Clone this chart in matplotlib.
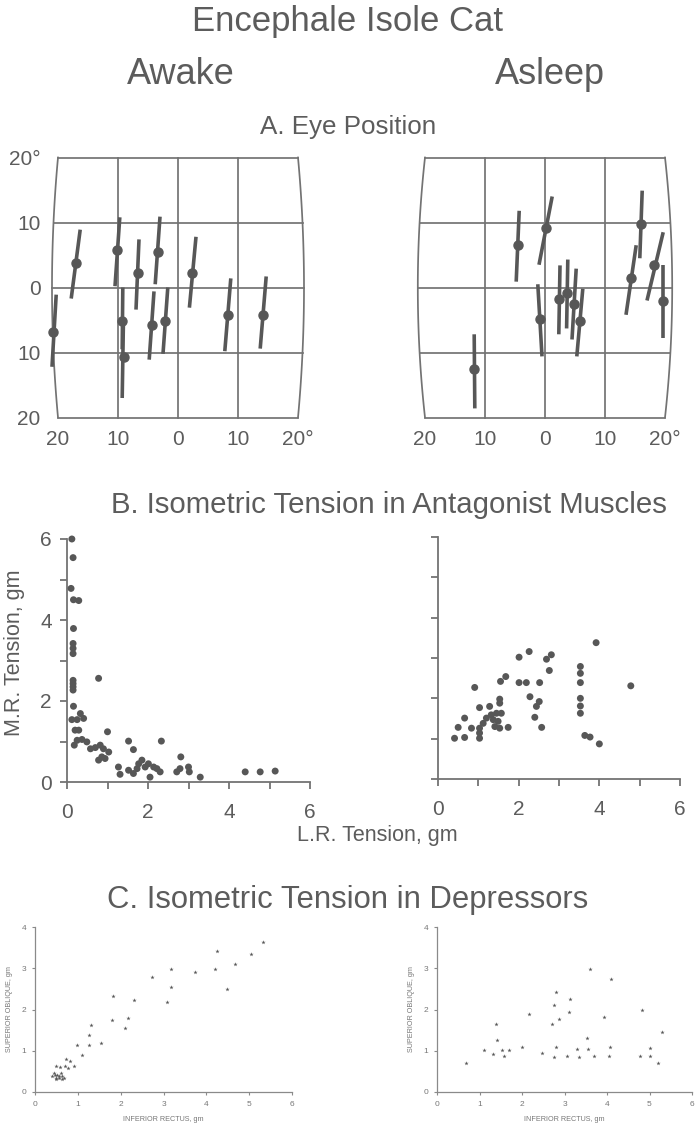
import matplotlib.pyplot as plt
import numpy as np

plt.rcParams['font.family'] = ['Liberation Sans', 'DejaVu Sans']

INK = '#575757'
TXT = '#5c5c5c'
LINE = '#737373'

# A. Eye position, degrees: centre dot and both ends of each excursion bar
awake_x = [-20.8, -17.0, -10.2, -6.7, -3.3, -9.3, -9.0, -4.3, -2.2, 2.4, 8.3, 14.2]
awake_y = [-6.8, 3.7, 5.7, 2.2, 5.5, -5.2, -10.7, -5.8, -5.2, 2.3, -4.3, -4.3]
awake_lo_x = [-21.0, -17.8, -10.5, -7.0, -3.8, -9.3, -9.3, -4.8, -2.5, 1.9, 7.8, 13.7]
awake_lo_y = [-12.2, -1.7, 0.2, -3.4, 0.5, -9.5, -17.0, -11.1, -10.2, -3.1, -9.8, -9.4]
awake_hi_x = [-20.3, -16.3, -9.7, -6.5, -3.0, -9.2, -9.1, -4.0, -1.7, 3.0, 8.8, 14.7]
awake_hi_y = [-1.1, 8.9, 10.8, 7.4, 10.9, 0.0, -5.5, -0.6, 0.0, 7.8, 1.4, 1.7]

asleep_x = [-4.5, 0.2, -0.8, 2.3, 3.7, 4.8, 5.8, -11.8, 14.3, 16.0, 18.2, 19.7]
asleep_y = [6.6, 9.1, -4.9, -1.8, -0.9, -2.5, -5.1, -12.6, 1.5, 9.7, 3.5, -2.0]
asleep_lo_x = [-4.8, -1.0, -0.5, 2.3, 3.6, 4.5, 5.3, -11.7, 13.5, 15.8, 17.0, 19.7]
asleep_lo_y = [0.9, 3.5, -10.6, -7.2, -6.3, -8.0, -10.6, -18.6, -4.2, 4.5, -2.0, -7.7]
asleep_hi_x = [-4.3, 1.2, -1.2, 2.5, 3.8, 5.2, 6.3, -11.8, 15.2, 16.2, 19.7, 19.7]
asleep_hi_y = [11.8, 14.0, 0.5, 3.4, 4.3, 2.9, -0.2, -7.2, 6.5, 14.9, 8.5, 3.5]

eye_ticks = [-20, -10, 0, 10, 20]
eye_xlabels = ['20', '10', '0', '10', '20°']
eye_ylabels = ['20', '10', '0', '10', '20°']

# B. Isometric tension (gm): L.R. on x, M.R. on y
awake_lr = [0.12, 0.15, 0.10, 0.16, 0.29, 0.16, 0.15, 0.15, 0.15, 0.15, 0.15, 0.15, 0.15,
            0.16, 0.12, 0.25, 0.33, 0.41, 0.20, 0.29, 0.18, 0.25, 0.37, 0.49, 0.58, 0.70,
            0.82, 0.90, 1.03, 0.78, 1.00, 0.78, 0.86, 0.94, 1.27, 1.31, 1.52, 1.64, 1.52,
            1.64, 1.73, 1.77, 1.85, 1.93, 2.01, 2.05, 2.14, 2.22, 2.30, 2.33, 2.71, 2.79,
            2.81, 3.00, 3.02, 3.29, 4.40, 4.77, 5.14]
awake_mr = [6.00, 5.54, 4.78, 4.50, 4.48, 3.79, 3.42, 3.30, 3.17, 2.51, 2.43, 2.35, 2.27,
            1.87, 1.54, 1.54, 1.69, 1.57, 1.28, 1.28, 0.91, 1.03, 1.05, 0.99, 0.82, 0.85,
            0.91, 0.82, 0.74, 2.56, 1.24, 0.54, 0.62, 0.58, 0.37, 0.19, 1.01, 0.80, 0.29,
            0.21, 0.33, 0.45, 0.54, 0.37, 0.45, 0.12, 0.37, 0.33, 0.25, 1.01, 0.25, 0.33,
            0.62, 0.37, 0.25, 0.12, 0.25, 0.25, 0.27]

asleep_lr = [0.41, 0.50, 0.66, 0.66, 0.83, 0.91, 1.03, 1.03, 1.03, 1.03, 1.12, 1.20, 1.28,
             1.32, 1.37, 1.41, 1.45, 1.49, 1.57, 1.53, 1.74, 1.53, 1.53, 1.55, 1.68, 2.01,
             2.01, 2.19, 2.26, 2.28, 2.40, 2.44, 2.51, 2.52, 2.57, 2.69, 2.81, 2.76, 3.53,
             3.53, 3.53, 3.53, 3.53, 3.53, 3.64, 3.77, 4.00, 3.92, 4.78]
asleep_mr = [1.01, 1.28, 1.03, 1.51, 1.26, 2.27, 1.01, 1.14, 1.26, 1.77, 1.38, 1.51, 1.80,
             1.59, 1.47, 1.30, 1.63, 1.43, 1.63, 1.26, 1.28, 1.98, 1.88, 2.42, 2.54, 3.02,
             2.39, 2.39, 3.16, 2.04, 1.53, 1.80, 1.92, 2.39, 1.28, 2.97, 3.08, 2.69, 2.79,
             2.62, 2.39, 2.00, 1.81, 1.63, 1.08, 1.04, 0.87, 3.38, 2.31]

# C. Depressors (gm): inferior rectus on x, superior oblique on y
awake_ir = [5.32, 5.04, 4.25, 4.21, 4.68, 4.48, 3.74, 3.18, 3.18, 3.08, 2.74, 2.30, 1.81,
            2.16, 2.09, 1.79, 1.54, 1.30, 1.25, 1.27, 0.99, 1.09, 0.72, 0.82, 0.90, 0.78,
            0.70, 0.58, 0.49, 0.40, 0.44, 0.48, 0.52, 0.56, 0.60, 0.64, 0.68, 0.46, 0.55,
            0.62, 0.50]
awake_so = [3.64, 3.34, 3.42, 2.99, 3.11, 2.49, 2.90, 2.98, 2.55, 2.19, 2.79, 2.23, 2.33,
            1.80, 1.55, 1.75, 1.20, 1.63, 1.38, 1.13, 1.13, 0.90, 0.80, 0.74, 0.62, 0.58,
            0.62, 0.60, 0.62, 0.38, 0.46, 0.34, 0.42, 0.34, 0.46, 0.38, 0.34, 0.42, 0.38,
            0.31, 0.31]

asleep_ir = [0.68, 1.10, 1.32, 1.38, 1.40, 1.54, 1.57, 1.70, 2.00, 2.17, 2.48, 2.70, 2.75,
             2.76, 2.81, 2.81, 2.88, 3.05, 3.11, 3.14, 3.29, 3.33, 3.54, 3.55, 3.60, 3.70,
             3.93, 4.06, 4.05, 4.09, 4.78, 4.82, 5.00, 5.02, 5.19, 5.29]
asleep_so = [0.70, 1.01, 0.93, 1.64, 1.26, 1.01, 0.88, 1.02, 1.08, 1.88, 0.94, 1.64, 2.11,
             0.86, 2.43, 1.09, 1.76, 0.88, 1.95, 2.25, 1.04, 0.85, 1.30, 1.04, 2.98, 0.88,
             1.81, 1.09, 0.88, 2.73, 0.88, 1.99, 1.06, 0.88, 0.70, 1.46]

W, H = 697, 1126
fig = plt.figure(figsize=(W / 100, H / 100), dpi=100)


def box(x0, y_top, w, h):
    # pixel box -> figure fraction
    return [x0 / W, 1 - (y_top + h) / H, w / W, h / H]


def eye_panel(ax, xs, ys, lox, loy, hix, hiy, bulge, show_y):
    yy = np.linspace(-20, 20, 60)
    edge = 20 + bulge * (1 - (yy / 20) ** 2)
    kw = dict(color=LINE, lw=1.25, zorder=1)
    ax.plot(-edge, yy, **kw)
    ax.plot(edge, yy, **kw)
    for v in (-10, 0, 10):
        ax.plot([v, v], [-20, 20], **kw)
    for h in (-20, 20):
        ax.plot([-20, 20], [h, h], **kw)
    for h in (-10, 0, 10):
        e = 20 + bulge * (1 - (h / 20) ** 2)
        ax.plot([-e, e], [h, h], **kw)
    for a, b, c, d in zip(lox, loy, hix, hiy):
        ax.plot([a, c], [b, d], color=INK, lw=2.6, solid_capstyle='butt', zorder=3)
    ax.plot(xs, ys, 'o', color=INK, ms=6.5, zorder=4)
    ax.set_xlim(-22, 22)
    ax.set_ylim(-21, 21)
    for s in ax.spines.values():
        s.set_visible(False)
    ax.set_xticks(eye_ticks)
    ax.set_xticklabels(eye_xlabels)
    if show_y:
        ax.set_yticks(eye_ticks)
        ax.set_yticklabels(eye_ylabels)
    else:
        ax.set_yticks([])
    ax.tick_params(length=0, labelsize=15, labelcolor=TXT, pad=4)


axA1 = fig.add_axes(box(46, 151, 264, 273))
eye_panel(axA1, awake_x, awake_y, awake_lo_x, awake_lo_y, awake_hi_x, awake_hi_y, 1.0, True)
axA2 = fig.add_axes(box(413, 151, 264, 273))
eye_panel(axA2, asleep_x, asleep_y, asleep_lo_x, asleep_lo_y, asleep_hi_x, asleep_hi_y, 1.2, False)


def tension_panel(ax, xs, ys, show_y):
    ax.scatter(xs, ys, s=25, color=INK, edgecolors='none', clip_on=False, zorder=3)
    ax.set_xlim(0, 6)
    ax.set_ylim(0, 6)
    for s in ('top', 'right'):
        ax.spines[s].set_visible(False)
    for s in ('left', 'bottom'):
        ax.spines[s].set_color(LINE)
        ax.spines[s].set_linewidth(1.3)
    ax.set_xticks(range(7))
    ax.set_xticklabels(['0', '', '2', '', '4', '', '6'])
    ax.set_yticks(range(7))
    ax.set_yticklabels(['0', '', '2', '', '4', '', '6'] if show_y else [''] * 7)
    ax.tick_params(direction='out', length=5, width=1.3, color=LINE,
                   labelsize=15, labelcolor=TXT)
    ax.tick_params(axis='x', pad=10)
    ax.tick_params(axis='y', pad=6)


axB1 = fig.add_axes(box(67, 539, 243, 243))
tension_panel(axB1, awake_lr, awake_mr, True)
axB2 = fig.add_axes(box(438, 537, 242, 242))
tension_panel(axB2, asleep_lr, asleep_mr, False)


def depressor_panel(ax, xs, ys):
    ax.plot(xs, ys, '*', color=INK, ms=3.2, mew=0, clip_on=False, zorder=3)
    ax.set_xlim(0, 6)
    ax.set_ylim(0, 4)
    for s in ('top', 'right'):
        ax.spines[s].set_visible(False)
    for s in ('left', 'bottom'):
        ax.spines[s].set_color('#8a8a8a')
        ax.spines[s].set_linewidth(0.9)
    ax.set_xticks(range(7))
    ax.set_yticks(range(5))
    ax.tick_params(direction='out', length=2.5, width=0.8, color='#8a8a8a',
                   labelsize=6, labelcolor='#777777', pad=4)
    ax.set_xlabel('INFERIOR RECTUS, gm', fontsize=5.2, color='#777777', labelpad=6)
    ax.set_ylabel('SUPERIOR OBLIQUE, gm', fontsize=5.2, color='#777777', labelpad=6)


axC1 = fig.add_axes(box(35, 927, 257, 165))
depressor_panel(axC1, awake_ir, awake_so)
axC2 = fig.add_axes(box(437, 927, 255, 165))
depressor_panel(axC2, asleep_ir, asleep_so)

fig.text(348 / W, 1 - 22 / H, 'Encephale Isole Cat', fontsize=25, color=TXT, ha='center', va='center')
fig.text(181 / W, 1 - 75 / H, 'Awake', fontsize=26, color=TXT, ha='center', va='center')
fig.text(550 / W, 1 - 75 / H, 'Asleep', fontsize=26, color=TXT, ha='center', va='center')
fig.text(348 / W, 1 - 127 / H, 'A. Eye Position', fontsize=18.7, color=TXT, ha='center', va='center')
fig.text(389 / W, 1 - 505 / H, 'B. Isometric Tension in Antagonist Muscles', fontsize=21.2,
         color=TXT, ha='center', va='center')
fig.text(15 / W, 1 - 653 / H, 'M.R. Tension, gm', fontsize=15.5, color=TXT, rotation=90,
         ha='center', va='center')
fig.text(377 / W, 1 - 835 / H, 'L.R. Tension, gm', fontsize=15.5, color=TXT, ha='center', va='center')
fig.text(348 / W, 1 - 900 / H, 'C. Isometric Tension in Depressors', fontsize=22.3,
         color=TXT, ha='center', va='center')

fig.savefig('out.png', dpi=100)
